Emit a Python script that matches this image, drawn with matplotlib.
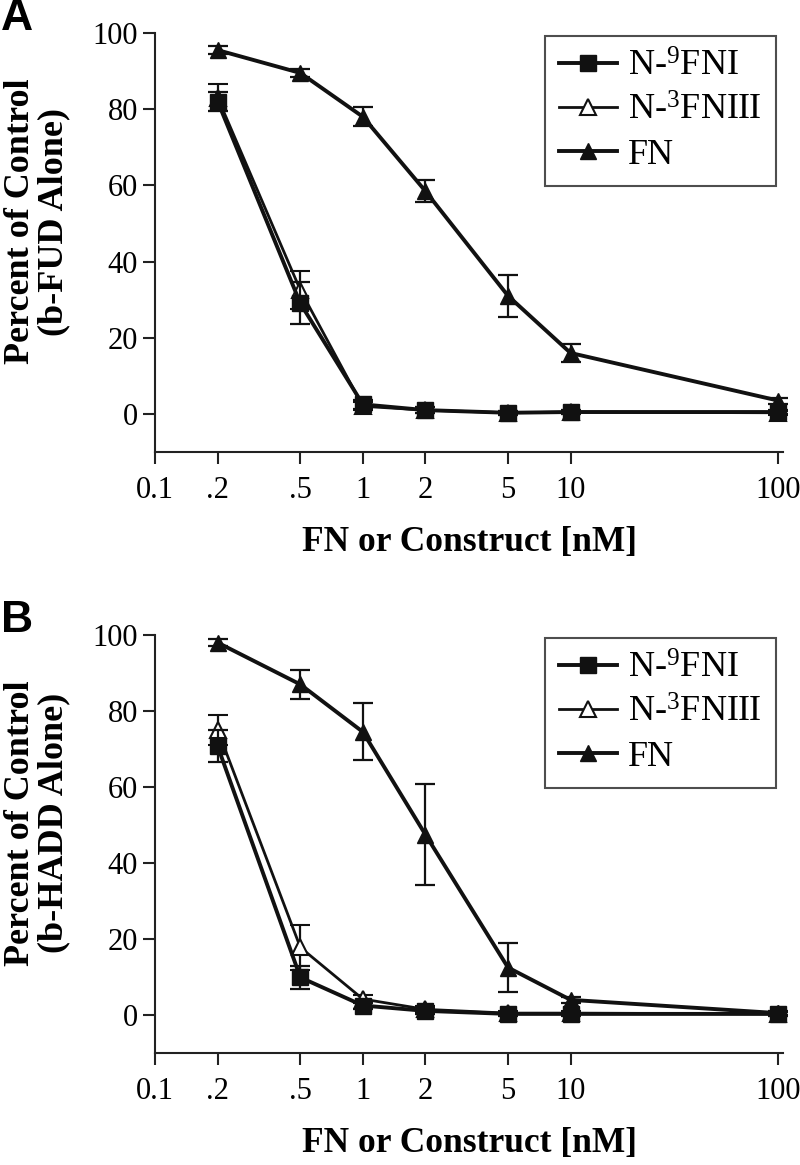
import matplotlib
matplotlib.use("Agg")
import matplotlib.pyplot as plt
from matplotlib.lines import Line2D

plt.rcParams["font.family"] = ["Liberation Serif", "DejaVu Serif"]
plt.rcParams["mathtext.fontset"] = "custom"
plt.rcParams["mathtext.rm"] = "Liberation Serif"
plt.rcParams["mathtext.default"] = "regular"

# concentrations (nM)
conc = [0.2, 0.5, 1, 2, 5, 10, 100]
xticks = [0.1, 0.2, 0.5, 1, 2, 5, 10, 100]
xtick_labels = ["0.1", ".2", ".5", "1", "2", "5", "10", "100"]
yticks = [0, 20, 40, 60, 80, 100]

# panel A: b-FUD
a_n9fni = [82, 29, 2.5, 1, 0.3, 0.5, 0.5]
a_n9fni_err = [2.5, 5.5, 1.2, 0.8, 0.5, 0.5, 0.5]
a_n3fniii = [83, 32.5, 2, 1, 0.3, 0.5, 0.3]
a_n3fniii_err = [3.5, 5, 1, 0.8, 0.5, 0.5, 0.5]
a_fn = [95.5, 89.5, 78, 58.5, 31, 16, 3.5]
a_fn_err = [1, 1, 2.5, 3, 5.5, 2.3, 0.8]

# panel B: b-HADD
b_n9fni = [70.7, 9.9, 2.5, 1.1, 0.3, 0.3, 0.3]
b_n9fni_err = [4.2, 3, 1, 0.8, 0.5, 0.5, 0.5]
b_n3fniii = [75, 17.8, 4.2, 1.5, 0.5, 0.5, 0.3]
b_n3fniii_err = [4, 6, 1, 0.8, 0.5, 0.5, 0.5]
b_fn = [98, 87, 74.5, 47.5, 12.5, 4, 0.5]
b_fn_err = [1, 3.8, 7.5, 13.3, 6.5, 0.8, 0.5]

LABELS = ["N-$^{9}$FNI", "N-$^{3}$FNIII", "FN"]


def draw_panel(ax, sq, sq_err, op, op_err, fn, fn_err, ylab, letter):
    ax.errorbar(conc, op, yerr=op_err, color="#111111", lw=2.0, marker="^", ms=12,
                mfc="white", mec="#111111", mew=1.5, capsize=7, elinewidth=1.6,
                capthick=1.6, zorder=3, clip_on=False)
    ax.errorbar(conc, sq, yerr=sq_err, color="#111111", lw=2.8, marker="s", ms=11,
                mfc="#111111", mec="#111111", capsize=7, elinewidth=1.6,
                capthick=1.6, zorder=4, clip_on=False)
    ax.errorbar(conc, fn, yerr=fn_err, color="#111111", lw=2.8, marker="^", ms=12,
                mfc="#111111", mec="#111111", capsize=7, elinewidth=1.6,
                capthick=1.6, zorder=5, clip_on=False)

    ax.set_xscale("log")
    ax.set_xlim(0.1, 105.7)
    ax.set_ylim(-10, 100)
    ax.set_xticks(xticks)
    ax.set_xticklabels(xtick_labels)
    ax.minorticks_off()
    ax.set_yticks(yticks)
    ax.tick_params(direction="out", length=8.5, width=1.5, labelsize=22, pad=4,
                   color="#222222")
    ax.tick_params(axis="x", pad=9)
    for s in ["top", "right"]:
        ax.spines[s].set_visible(False)
    for s in ["left", "bottom"]:
        ax.spines[s].set_linewidth(1.5)
        ax.spines[s].set_color("#222222")

    ax.set_xlabel("FN or Construct [nM]", fontsize=25.5, fontweight="bold", labelpad=15)
    ax.set_ylabel(ylab, fontsize=26, fontweight="bold", linespacing=1.0)
    ax.yaxis.set_label_coords(-0.135, 0.55)

    handles = [
        Line2D([], [], color="#111111", lw=2.8, marker="s", ms=12, mfc="#111111"),
        Line2D([], [], color="#111111", lw=2.0, marker="^", ms=12, mfc="white", mew=1.5),
        Line2D([], [], color="#111111", lw=2.8, marker="^", ms=12, mfc="#111111"),
    ]
    leg = ax.legend(handles, LABELS, loc="upper right", bbox_to_anchor=(1.0, 1.01),
                    fontsize=26, frameon=True, fancybox=False, edgecolor="#222222",
                    handlelength=1.6, handletextpad=0.3, labelspacing=0.3,
                    borderpad=0.4, borderaxespad=0.2)
    leg.get_frame().set_linewidth(1.5)

    ax.text(-0.245, 1.035, letter, transform=ax.transAxes, fontsize=32,
            fontweight="bold", family="Liberation Sans", va="center", ha="left")


fig = plt.figure(figsize=(8, 11.65), dpi=100)
ax_a = fig.add_axes([0.194, 0.612, 0.785, 0.3597])
ax_b = fig.add_axes([0.194, 0.0961, 0.785, 0.3588])

draw_panel(ax_a, a_n9fni, a_n9fni_err, a_n3fniii, a_n3fniii_err, a_fn, a_fn_err,
           "Percent of Control\n(b-FUD Alone)", "A")
draw_panel(ax_b, b_n9fni, b_n9fni_err, b_n3fniii, b_n3fniii_err, b_fn, b_fn_err,
           "Percent of Control\n(b-HADD Alone)", "B")

fig.savefig("out.png", dpi=100)
